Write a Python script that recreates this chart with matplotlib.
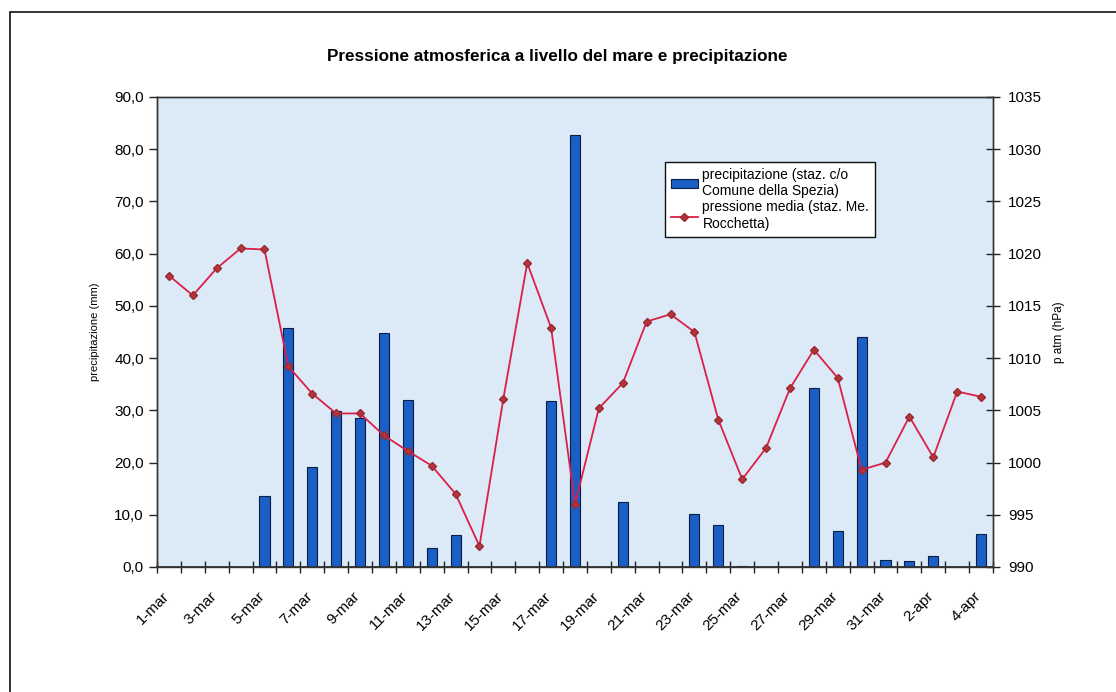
import matplotlib
matplotlib.use("Agg")
import matplotlib.pyplot as plt
from matplotlib.patches import Patch, Rectangle
from matplotlib.lines import Line2D
from matplotlib.ticker import FuncFormatter
import numpy as np

plt.rcParams['font.family'] = ['Liberation Sans', 'DejaVu Sans']

# Days: 1 March .. 4 April
days = ["1-mar", "2-mar", "3-mar", "4-mar", "5-mar", "6-mar", "7-mar", "8-mar",
        "9-mar", "10-mar", "11-mar", "12-mar", "13-mar", "14-mar", "15-mar",
        "16-mar", "17-mar", "18-mar", "19-mar", "20-mar", "21-mar", "22-mar",
        "23-mar", "24-mar", "25-mar", "26-mar", "27-mar", "28-mar", "29-mar",
        "30-mar", "31-mar", "1-apr", "2-apr", "3-apr", "4-apr"]

# Daily precipitation (mm)
precipitazione = [0.0, 0.0, 0.0, 0.0, 13.6, 45.8, 19.2, 29.9, 28.5, 44.9,
                  32.0, 3.6, 6.2, 0.0, 0.0, 0.0, 31.7, 82.7, 0.0, 12.4,
                  0.0, 0.0, 10.1, 8.1, 0.1, 0.0, 0.0, 34.2, 6.8, 44.0,
                  1.3, 1.1, 2.2, 0.0, 6.3]

# Mean sea-level pressure (hPa)
pressione = [1017.9, 1016.0, 1018.6, 1020.5, 1020.4, 1009.2, 1006.6, 1004.7,
             1004.7, 1002.6, 1001.1, 999.7, 997.0, 992.0, 1006.1, 1019.1,
             1012.9, 996.0, 1005.2, 1007.6, 1013.5, 1014.2, 1012.5, 1004.1,
             998.4, 1001.4, 1007.1, 1010.8, 1008.1, 999.3, 1000.0, 1004.4,
             1000.5, 1006.8, 1006.3]

label_prec = "precipitazione (staz. c/o\nComune della Spezia)"
label_pres = "pressione media (staz. Me.\nRocchetta)"
title = "Pressione atmosferica a livello del mare e precipitazione"

W, H = 1116, 692
fig = plt.figure(figsize=(W / 100, H / 100), dpi=100)
fig.patch.set_facecolor("white")

# outer frame of the chart sheet
fig.add_artist(Rectangle((10 / W, -0.05), 1.2, 1 - 12 / H + 0.05,
                         transform=fig.transFigure, fill=False,
                         edgecolor="#222222", linewidth=1.3))

L, R, T, B = 157, 993, 97, 567
ax = fig.add_axes([L / W, 1 - B / H, (R - L) / W, (B - T) / H])
ax.set_facecolor("#dbeaf6")

x = np.arange(len(days))
ax.bar(x, precipitazione, width=0.42, color="#1b5fc6",
       edgecolor="#0b1d45", linewidth=0.8, zorder=2)
ax.set_xlim(-0.5, len(days) - 0.5)
ax.set_ylim(0, 90)
ax.set_yticks(np.arange(0, 91, 10))
ax.yaxis.set_major_formatter(FuncFormatter(lambda v, p: f"{v:.1f}".replace(".", ",")))
ax.set_ylabel("precipitazione (mm)", fontsize=8)
ax.yaxis.set_label_coords(-0.068, 0.5)

# category labels every other day (label anchor nudged left of the
# category centre, no tick mark), tick marks at category boundaries
ax.set_xticks(x[::2] - 0.3)
ax.set_xticklabels(days[::2], rotation=45, ha="right", va="top",
                   rotation_mode="anchor", fontsize=11)
ax.set_xticks(np.arange(-0.5, len(days), 1), minor=True)
ax.tick_params(axis="x", which="major", length=0, pad=16)
ax.tick_params(axis="x", which="minor", direction="inout", length=9,
               width=1.0, color="#222222")
ax.tick_params(axis="y", which="major", direction="out", length=6,
               width=1.0, color="#222222", labelsize=11)

for s in ax.spines.values():
    s.set_color("#333333")
    s.set_linewidth(1.0)
ax.spines["bottom"].set_linewidth(1.3)

ax2 = ax.twinx()
ax2.plot(x, pressione, color="#dc1f48", linewidth=1.3, marker="D",
         markersize=4.4, markerfacecolor="#b5343c", markeredgecolor="#9a2a30",
         zorder=3)
ax2.set_ylim(990, 1035)
ax2.set_yticks(np.arange(990, 1036, 5))
ax2.tick_params(axis="y", direction="inout", length=10, width=1.0,
                color="#222222", labelsize=11, pad=6)
ax2.set_ylabel("p atm (hPa)", fontsize=8.5)
ax2.yaxis.set_label_coords(1.072, 0.5)
for s in ax2.spines.values():
    s.set_color("#333333")
    s.set_linewidth(1.0)

handles = [Patch(facecolor="#1b5fc6", edgecolor="#0b1d45", linewidth=0.8),
           Line2D([0], [0], color="#dc1f48", linewidth=1.3, marker="D",
                  markersize=3.8, markerfacecolor="#b5343c",
                  markeredgecolor="#9a2a30")]
leg = ax2.legend(handles, [label_prec, label_pres], loc="upper left",
                 bbox_to_anchor=((665 - L) / (R - L), (B - 162) / (B - T)),
                 borderaxespad=0, fontsize=10, frameon=True, fancybox=False,
                 edgecolor="#111111", framealpha=1, handlelength=2.0,
                 handleheight=0.55, handletextpad=0.3, labelspacing=0.15,
                 borderpad=0.4)
leg.get_frame().set_linewidth(1.0)
for t in leg.get_texts():
    t.set_linespacing(1.25)

fig.text(557 / W, 1 - 57 / H, title, ha="center", va="center",
         fontsize=12.3, fontweight="bold")

fig.savefig("out.png", dpi=100)
